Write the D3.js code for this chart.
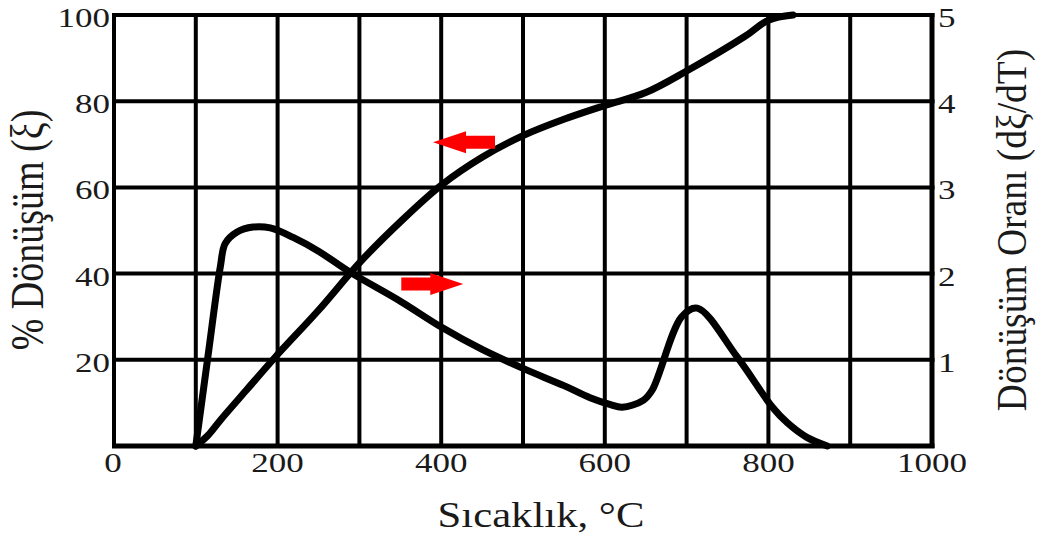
<!DOCTYPE html>
<html>
<head>
<meta charset="utf-8">
<script src="https://cdn.jsdelivr.net/npm/d3@7"></script>
<style>
html,body{margin:0;padding:0;background:#fff;}
svg{display:block;}
text{font-family:"Liberation Serif","Times New Roman",serif;fill:#1a1a1a;}
</style>
</head>
<body>
<svg id="chart" width="1043" height="540"></svg>
<script>
// ---- data ----
const xTicks = [0, 200, 400, 600, 800, 1000];
const xGrid = [0, 100, 200, 300, 400, 500, 600, 700, 800, 900, 1000];
const leftTicks = [20, 40, 60, 80, 100];
const leftGrid = [0, 20, 40, 60, 80, 100];
const rightTicks = [1, 2, 3, 4, 5];

const convT = [100, 115, 130, 162, 197, 250, 300, 350, 400, 450, 500, 550, 600, 650, 700, 771, 800, 830];
const convPct = [0, 2.5, 6, 13, 20.6, 31.5, 42.5, 52, 60.5, 67, 72, 75.8, 79, 82, 87, 95, 98.8, 100];

const rateT = [100, 115, 130, 136, 150, 170, 191, 219, 250, 288, 350, 400, 450, 500, 550, 582, 607, 621, 647, 658, 694, 713, 762, 805, 823, 847, 872];
const rateVal = [0, 1.05, 2.08, 2.35, 2.48, 2.54, 2.53, 2.42, 2.26, 2.02, 1.68, 1.38, 1.12, 0.9, 0.7, 0.56, 0.48, 0.45, 0.53, 0.65, 1.5, 1.6, 1.03, 0.45, 0.27, 0.1, 0];

// annotation arrows: tip position (temperature, % conversion), direction
const arrowTipT = [390, 427];
const arrowTipPct = [70.5, 37.6];
const arrowDir = [-1, 1];

const xLabel = "Sıcaklık, °C";
const yLeftLabel = "% Dönüşüm (ξ)";
const yRightLabel = "Dönüşüm Oranı (dξ/dT)";

// ---- scales ----
const svg = d3.select("#chart");
const x = d3.scaleLinear().domain([0, 1000]).range([114, 932]);
const yL = d3.scaleLinear().domain([0, 100]).range([446, 15]);
const yR = d3.scaleLinear().domain([0, 5]).range([446, 15]);

// grid
const g = svg.append("g");
g.selectAll("line.v").data(xGrid).join("line")
  .attr("x1", d => x(d)).attr("x2", d => x(d))
  .attr("y1", yL(0) + 2).attr("y2", yL(100) - 2)
  .attr("stroke", "#000").attr("stroke-width", d => (d === 1000 ? 5 : 4));
g.selectAll("line.h").data(leftGrid).join("line")
  .attr("x1", x(0) - 2).attr("x2", x(1000) + 2.5)
  .attr("y1", d => yL(d)).attr("y2", d => yL(d))
  .attr("stroke", "#000").attr("stroke-width", d => (d === 0 ? 5 : 4));

// tick labels
const sx = 1.25;
svg.selectAll("text.lt").data(leftTicks).join("text")
  .attr("transform", d => `translate(110,${yL(d) + 12}) scale(${sx},1)`)
  .attr("text-anchor", "end").attr("font-size", 28).text(d => d);
svg.selectAll("text.rt").data(rightTicks).join("text")
  .attr("transform", d => `translate(938,${yR(d) + 12}) scale(${sx},1)`)
  .attr("text-anchor", "start").attr("font-size", 28).text(d => d);
svg.selectAll("text.xt").data(xTicks).join("text")
  .attr("transform", d => `translate(${x(d) + (d === 0 ? -1 : 0)},472) scale(${sx},1)`)
  .attr("text-anchor", "middle").attr("font-size", 28).text(d => d);

// axis titles
svg.append("text")
  .attr("transform", `translate(541,527) scale(1.22,1)`)
  .attr("text-anchor", "middle").attr("font-size", 35).text(xLabel);
svg.append("text")
  .attr("transform", `translate(43,230) scale(1.2,1) rotate(-90)`)
  .attr("text-anchor", "middle").attr("font-size", 38).text(yLeftLabel);
svg.append("text")
  .attr("transform", `translate(1026,230) scale(1.1,1) rotate(-90)`)
  .attr("text-anchor", "middle").attr("font-size", 37.5).text(yRightLabel);

// curves
const convData = convT.map((t, i) => [t, convPct[i]]);
const rateData = rateT.map((t, i) => [t, rateVal[i]]);
const curve = d3.curveCatmullRom.alpha(0.5);
const lineL = d3.line().x(d => x(d[0])).y(d => yL(d[1])).curve(curve);
const lineR = d3.line().x(d => x(d[0])).y(d => yR(d[1])).curve(curve);
svg.append("path").attr("d", lineL(convData)).attr("fill", "none")
  .attr("stroke", "#000").attr("stroke-width", 7).attr("stroke-linejoin", "round").attr("stroke-linecap", "round");
svg.append("path").attr("d", lineR(rateData)).attr("fill", "none")
  .attr("stroke", "#000").attr("stroke-width", 7).attr("stroke-linejoin", "round").attr("stroke-linecap", "round");

// arrows
const arrows = arrowTipT.map((t, i) => ({t, p: arrowTipPct[i], dir: arrowDir[i]}));
svg.selectAll("path.arrow").data(arrows).join("path")
  .attr("fill", "#ff0000")
  .attr("d", d => {
    const tx = x(d.t), ty = yL(d.p), s = -d.dir; // s: direction from tip toward tail
    const headL = 33, len = 62, hh = 11, sh = 6.5;
    const pts = [
      [tx, ty],
      [tx + s * headL, ty - hh],
      [tx + s * headL, ty - sh],
      [tx + s * len, ty - sh],
      [tx + s * len, ty + sh],
      [tx + s * headL, ty + sh],
      [tx + s * headL, ty + hh]
    ];
    return "M" + pts.map(p => p.join(",")).join("L") + "Z";
  });
</script>
</body>
</html>
